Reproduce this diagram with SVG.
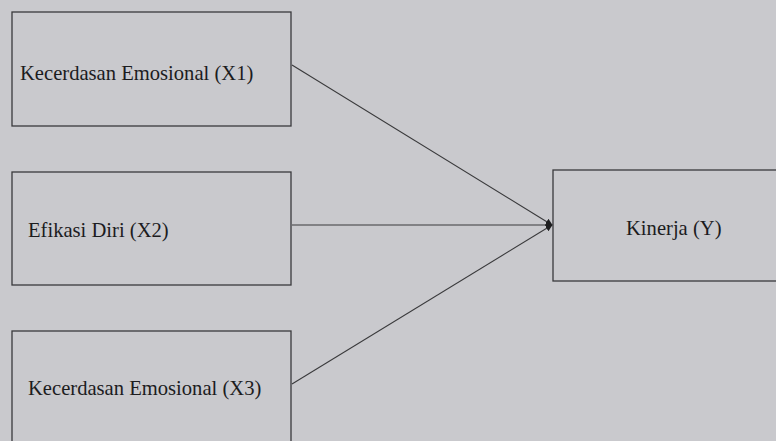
<svg xmlns="http://www.w3.org/2000/svg" width="776" height="441" viewBox="0 0 776 441">
  <style>
    .box { fill: #c9c9cd; stroke: #3a3a3c; stroke-width: 1.3; }
    .lbl { font-family: "Liberation Serif", "Times New Roman", serif; font-size: 20.6px; fill: #1c1c1e; }
    .edge { stroke: #3a3a3c; stroke-width: 1.1; fill: none; }
  </style>
  <defs>
    <marker id="arrow" viewBox="0 0 10 10" refX="9" refY="5" markerWidth="7" markerHeight="7" markerUnits="userSpaceOnUse" orient="auto">
      <path d="M0,0 L10,5 L0,10 z" fill="#1e1e20"/>
    </marker>
  </defs>
  <rect width="776" height="441" fill="#c9c9cd"/>

  <g id="x1">
    <rect class="box" x="12" y="12" width="279" height="114"/>
    <text class="lbl" x="20" y="80">Kecerdasan Emosional (X1)</text>
  </g>
  <g id="x2">
    <rect class="box" x="12" y="172" width="279" height="113"/>
    <text class="lbl" x="28" y="237">Efikasi Diri (X2)</text>
  </g>
  <g id="x3">
    <rect class="box" x="12" y="331" width="279" height="120"/>
    <text class="lbl" x="28" y="395">Kecerdasan Emosional (X3)</text>
  </g>
  <g id="y">
    <rect class="box" x="553" y="170" width="240" height="111"/>
    <text class="lbl" x="626" y="235">Kinerja (Y)</text>
  </g>

  <g id="connectors">
    <line class="edge" x1="292" y1="65" x2="552" y2="225" marker-end="url(#arrow)"/>
    <line class="edge" x1="292" y1="225" x2="552" y2="225" marker-end="url(#arrow)"/>
    <line class="edge" x1="292" y1="384" x2="552" y2="225" marker-end="url(#arrow)"/>
  </g>
</svg>
